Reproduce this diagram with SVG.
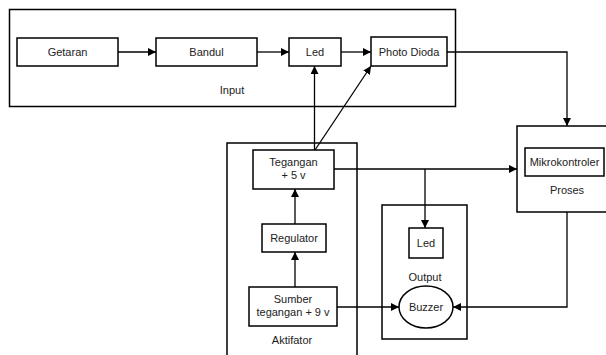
<svg xmlns="http://www.w3.org/2000/svg" width="606" height="355" viewBox="0 0 606 355">
<style>
.b{fill:#fff;stroke:#000;stroke-width:1.5}
.g{fill:none;stroke:#000;stroke-width:1.5}
.t{font-family:"Liberation Sans",Arial,sans-serif;font-size:11px;fill:#222;text-anchor:middle}
.c{fill:none;stroke:#000;stroke-width:1.3}
</style>
<defs>
<marker id="a" viewBox="0 0 10 10" refX="10" refY="5" markerWidth="8" markerHeight="8" markerUnits="userSpaceOnUse" orient="auto">
<path d="M0,0L10,5L0,10z" fill="#000"/>
</marker>
</defs>
<rect width="606" height="355" fill="#fff"/>
<g id="grp-input"><rect class="g" x="9.5" y="9.5" width="446" height="97"/><text class="t" x="232" y="94">Input</text></g>
<g id="grp-proses"><rect class="g" x="517" y="126" width="95" height="86"/><text class="t" x="567" y="194">Proses</text></g>
<g id="grp-output"><rect class="g" x="382" y="205" width="85" height="134"/><text class="t" x="425" y="281">Output</text></g>
<g id="grp-aktifator"><rect class="g" x="227" y="143" width="130" height="220"/><text class="t" x="292" y="344">Aktifator</text></g>
<g id="getaran"><rect class="b" x="17" y="38" width="101" height="28"/><text class="t" x="67.5" y="56">Getaran</text></g>
<g id="bandul"><rect class="b" x="156" y="38" width="101" height="28"/><text class="t" x="206.5" y="56">Bandul</text></g>
<g id="led1"><rect class="b" x="289" y="38" width="52" height="28"/><text class="t" x="315" y="56">Led</text></g>
<g id="photodioda"><rect class="b" x="371" y="37" width="76" height="29"/><text class="t" x="409" y="56">Photo Dioda</text></g>
<g id="mikrokontroler"><rect class="b" x="525" y="148" width="79" height="28"/><text class="t" x="564.5" y="166">Mikrokontroler</text></g>
<g id="tegangan5"><rect class="b" x="253" y="150" width="81" height="39"/><text class="t" x="293.5" y="166">Tegangan</text><text class="t" x="293.5" y="179">+ 5 v</text></g>
<g id="regulator"><rect class="b" x="262" y="224" width="64" height="28"/><text class="t" x="294" y="242">Regulator</text></g>
<g id="sumber"><rect class="b" x="249" y="287" width="88" height="39"/><text class="t" x="293" y="303">Sumber</text><text class="t" x="293" y="316">tegangan + 9 v</text></g>
<g id="led2"><rect class="b" x="409" y="228" width="34" height="30"/><text class="t" x="426" y="247">Led</text></g>
<g id="buzzer"><ellipse class="b" cx="426" cy="307" rx="27" ry="21"/><text class="t" x="426" y="311">Buzzer</text></g>
<g id="connectors">
<line class="c" x1="118" y1="52" x2="156" y2="52" marker-end="url(#a)"/>
<line class="c" x1="257" y1="52" x2="289" y2="52" marker-end="url(#a)"/>
<line class="c" x1="341" y1="52" x2="371" y2="52" marker-end="url(#a)"/>
<polyline class="c" points="447,52 567,52 567,126" marker-end="url(#a)"/>
<line class="c" x1="314.5" y1="150" x2="314.5" y2="66" marker-end="url(#a)"/>
<line class="c" x1="315" y1="150" x2="371" y2="66" marker-end="url(#a)"/>
<line class="c" x1="334" y1="169" x2="517" y2="169" marker-end="url(#a)"/>
<line class="c" x1="425" y1="169" x2="425" y2="228" marker-end="url(#a)"/>
<line class="c" x1="295" y1="224" x2="295" y2="189" marker-end="url(#a)"/>
<line class="c" x1="295" y1="287" x2="295" y2="252" marker-end="url(#a)"/>
<line class="c" x1="337" y1="307" x2="399" y2="307" marker-end="url(#a)"/>
<polyline class="c" points="567,212 567,307 453,307" marker-end="url(#a)"/>
</g>
</svg>
